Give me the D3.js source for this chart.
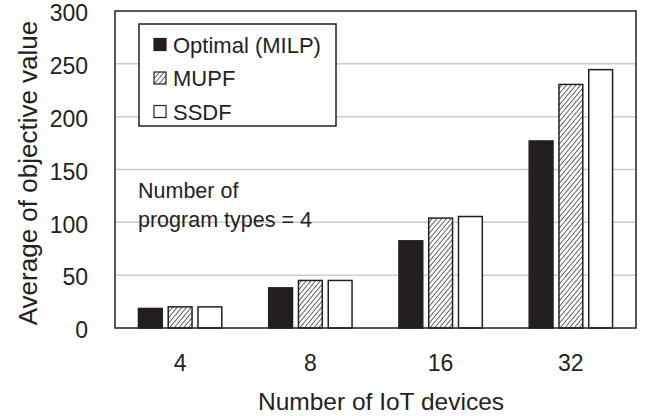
<!DOCTYPE html>
<html>
<head>
<meta charset="utf-8">
<style>
body { margin:0; background:white; }
text { font-family: "Liberation Sans", Arial, sans-serif; fill:#222; }
</style>
<script src="https://cdn.jsdelivr.net/npm/d3@7"></script>
</head>
<body>
<div id="chart"></div>
<script>

var categories = ["4", "8", "16", "32"]
var seriesNames = ["Optimal (MILP)", "MUPF", "SSDF"]
var optimal = [18.5, 38, 82.5, 177]
var mupf = [20, 45, 104, 230.5]
var ssdf = [20, 45, 105.5, 244.5]
var yTicks = [0, 50, 100, 150, 200, 250, 300]

var width = 646
var height = 416
var margin = {top: 11, right: 10, bottom: 88, left: 115}

var svg = d3.select("#chart").append("svg")
    .attr("width", width)
    .attr("height", height)

var defs = svg.append("defs")
var pat = defs.append("pattern")
    .attr("id", "hatch")
    .attr("patternUnits", "userSpaceOnUse")
    .attr("width", 3.6).attr("height", 3.6)
    .attr("patternTransform", "rotate(40)")
pat.append("rect").attr("width", 3.6).attr("height", 3.6).attr("fill", "white")
pat.append("line")
    .attr("x1", 0).attr("y1", 0).attr("x2", 0).attr("y2", 3.6)
    .attr("stroke", "#333").attr("stroke-width", 1.5)

var fills = ["#231f20", "url(#hatch)", "white"]

var x0 = d3.scaleBand()
    .domain(categories)
    .range([margin.left, width - margin.right])
    .paddingInner(0.36)
    .paddingOuter(0.18)

var x1 = d3.scaleBand()
    .domain(seriesNames)
    .range([0, x0.bandwidth()])
    .paddingInner(0.2)

var y = d3.scaleLinear()
    .domain([0, 300])
    .range([height - margin.bottom, margin.top])

// gridlines
svg.append("g")
  .selectAll("line")
  .data(yTicks.slice(1, -1))
  .enter().append("line")
    .attr("x1", margin.left).attr("x2", width - margin.right)
    .attr("y1", function(d) { return y(d) }).attr("y2", function(d) { return y(d) })
    .attr("stroke", "#cccccc").attr("stroke-width", 1.5)

var table = categories.map(function(c, i) {
  return [optimal[i], mupf[i], ssdf[i]]
})

var groups = svg.append("g")
  .selectAll("g")
  .data(table)
  .enter().append("g")
    .attr("transform", function(d, i) { return "translate(" + x0(categories[i]) + ",0)" })

groups.selectAll("rect")
  .data(function(d) { return d })
  .enter().append("rect")
    .attr("x", function(d, j) { return x1(seriesNames[j]) })
    .attr("width", x1.bandwidth())
    .attr("y", function(d) { return y(d) })
    .attr("height", function(d) { return y(0) - y(d) })
    .attr("fill", function(d, j) { return fills[j] })
    .attr("stroke", "#231f20")
    .attr("stroke-width", 1.5)

// frame
svg.append("rect")
    .attr("x", margin.left).attr("y", margin.top)
    .attr("width", width - margin.right - margin.left)
    .attr("height", y(0) - margin.top)
    .attr("fill", "none")
    .attr("stroke", "#231f20").attr("stroke-width", 1.5)

// y axis
var yAxis = svg.append("g")
    .attr("transform", "translate(" + margin.left + ",0)")
    .call(d3.axisLeft(y).tickValues(yTicks).tickSize(0).tickPadding(27))
yAxis.select(".domain").remove()
yAxis.selectAll("text")
    .style("font-size", "23px")
    .attr("dy", "0.42em")
    .attr("fill", "#222")

// x axis
var xAxis = svg.append("g")
    .attr("transform", "translate(0," + y(0) + ")")
    .call(d3.axisBottom(x0).tickSize(0).tickPadding(27))
xAxis.select(".domain").remove()
xAxis.selectAll("text")
    .style("font-size", "23px")
    .attr("fill", "#222")

svg.append("text")
    .attr("x", 381)
    .attr("y", 410)
    .attr("text-anchor", "middle")
    .style("font-size", "24.5px")
    .text("Number of IoT devices")

svg.append("text")
    .attr("transform", "translate(37,173) rotate(-90)")
    .attr("text-anchor", "middle")
    .style("font-size", "26px")
    .text("Average of objective value")

// legend
var lg = svg.append("g").attr("transform", "translate(139,24)")
lg.append("rect")
    .attr("width", 197).attr("height", 102)
    .attr("fill", "white")
    .attr("stroke", "#231f20").attr("stroke-width", 1.5)
var items = lg.selectAll(".item")
  .data(seriesNames)
  .enter().append("g")
    .attr("class", "item")
    .attr("transform", function(d, i) { return "translate(15," + (20.5 + i * 33.5) + ")" })
items.append("rect")
    .attr("x", 0).attr("y", -6).attr("width", 12).attr("height", 12)
    .attr("fill", function(d, i) { return fills[i] })
    .attr("stroke", "#231f20").attr("stroke-width", 1.2)
items.append("text")
    .attr("x", 19).attr("y", 8)
    .style("font-size", "22px")
    .text(function(d) { return d })

// annotation
var ann = svg.append("text").attr("x", 138).attr("y", 198).style("font-size", "21.5px")
ann.append("tspan").attr("x", 138).text("Number of")
ann.append("tspan").attr("x", 138).attr("dy", 29).text("program types = 4")

</script>
</body>
</html>
